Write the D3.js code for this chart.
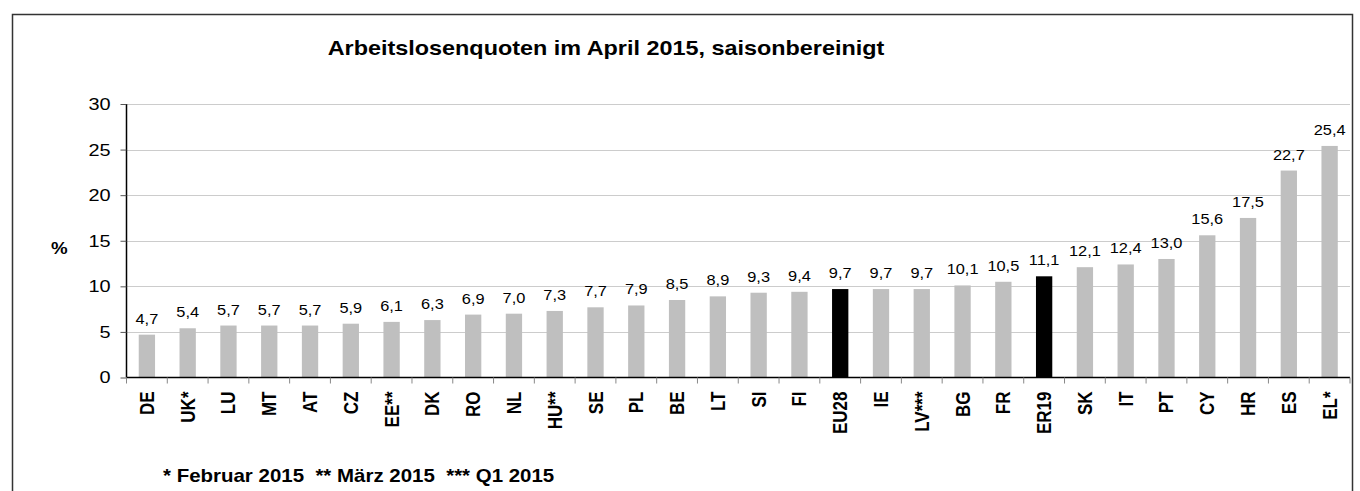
<!DOCTYPE html>
<html>
<head>
<meta charset="utf-8">
<script src="https://cdn.jsdelivr.net/npm/d3@7"></script>
<style>
  body { margin: 0; background: #fff; }
  svg text { font-family: "Liberation Sans", Arial, sans-serif; }
</style>
</head>
<body>
<div id="chart"></div>
<script>
var countries = ["DE","UK*","LU","MT","AT","CZ","EE**","DK","RO","NL","HU**","SE","PL","BE","LT","SI","FI","EU28","IE","LV***","BG","FR","ER19","SK","IT","PT","CY","HR","ES","EL*"];
var rates = [4.7,5.4,5.7,5.7,5.7,5.9,6.1,6.3,6.9,7.0,7.3,7.7,7.9,8.5,8.9,9.3,9.4,9.7,9.7,9.7,10.1,10.5,11.1,12.1,12.4,13.0,15.6,17.5,22.7,25.4];
var highlighted = ["EU28","ER19"];
var yTicks = [0,5,10,15,20,25,30];

var width = 1360, height = 491;
var sx = 1.17; // the original text looks a bit wide
var svg = d3.select("#chart").append("svg")
  .attr("width", width)
  .attr("height", height);

function at(px, py) {
  return "translate(" + px + "," + py + ") scale(" + sx + ",1)";
}

// frame
svg.append("rect")
  .attr("x", 12.5).attr("y", 14.5)
  .attr("width", 1340).attr("height", 500)
  .attr("fill", "none")
  .attr("stroke", "#333")
  .attr("stroke-width", 1.5);

var x = d3.scaleBand().domain(countries).range([126.5, 1350]).paddingInner(0.6).paddingOuter(0.3);
var y = d3.scaleLinear().domain([0, 30]).range([377.5, 104]);

// gridlines
svg.append("g").selectAll("line")
  .data(yTicks.slice(1))
  .enter().append("line")
  .attr("x1", 126.5).attr("x2", 1350)
  .attr("y1", function(d) { return Math.round(y(d)) + 0.5; })
  .attr("y2", function(d) { return Math.round(y(d)) + 0.5; })
  .attr("stroke", "#999")
  .attr("stroke-dasharray", "1,1");

// bars
svg.append("g").selectAll("rect")
  .data(countries)
  .enter().append("rect")
  .attr("x", function(d) { return x(d); })
  .attr("width", x.bandwidth())
  .attr("y", function(d, i) { return y(rates[i]); })
  .attr("height", function(d, i) { return y(0) - y(rates[i]); })
  .attr("fill", function(d) { return highlighted.indexOf(d) >= 0 ? "#000" : "#bfbfbf"; });

// value labels
svg.append("g").selectAll("text")
  .data(countries)
  .enter().append("text")
  .attr("transform", function(d, i) { return at(x(d) + x.bandwidth() / 2, y(rates[i]) - 11); })
  .attr("text-anchor", "middle")
  .attr("font-size", "14px")
  .attr("fill", "#000")
  .text(function(d, i) { return rates[i].toFixed(1).replace(".", ","); });

// y axis
var yAxis = svg.append("g")
  .attr("transform", "translate(126.5,0)")
  .call(d3.axisLeft(y).tickValues(yTicks).tickSize(6).tickPadding(10));
yAxis.select(".domain").attr("stroke", "#000").attr("stroke-width", 1.5).attr("d", "M0," + y(30) + "V" + y(0));
yAxis.selectAll(".tick line").attr("stroke", "#555");
yAxis.selectAll("text")
  .attr("x", 0)
  .attr("transform", at(-16, 0))
  .attr("font-size", "17px").attr("fill", "#000")
  .attr("font-family", "'Liberation Sans', Arial, sans-serif");

// x axis
var step = x.step();
var xAxis = svg.append("g")
  .attr("transform", "translate(0," + y(0) + ")");
xAxis.append("line")
  .attr("x1", 126.5).attr("x2", 1350)
  .attr("stroke", "#000").attr("stroke-width", 1.5);
xAxis.selectAll("line.sep")
  .data(d3.range(countries.length + 1))
  .enter().append("line")
  .attr("class", "sep")
  .attr("x1", function(i) { return 126.5 + i * step; })
  .attr("x2", function(i) { return 126.5 + i * step; })
  .attr("y1", 0).attr("y2", 6)
  .attr("stroke", "#888");
xAxis.selectAll("text")
  .data(countries)
  .enter().append("text")
  .attr("transform", function(d) {
    return at(x(d) + x.bandwidth() / 2 + 7, 14) + " rotate(-90)";
  })
  .attr("text-anchor", "end")
  .attr("font-size", "17px")
  .attr("font-weight", "bold")
  .text(function(d) { return d; });

// title
svg.append("text")
  .attr("transform", at(606, 55))
  .attr("text-anchor", "middle")
  .attr("font-size", "20px")
  .attr("font-weight", "bold")
  .text("Arbeitslosenquoten im April 2015, saisonbereinigt");

// unit
svg.append("text")
  .attr("transform", at(51, 254))
  .attr("font-size", "16px")
  .attr("font-weight", "bold")
  .text("%");

// footnote
svg.append("text")
  .attr("transform", at(163, 482))
  .attr("font-size", "17.5px")
  .attr("font-weight", "bold")
  .style("white-space", "pre")
  .text("* Februar 2015  ** März 2015  *** Q1 2015");
</script>
</body>
</html>
